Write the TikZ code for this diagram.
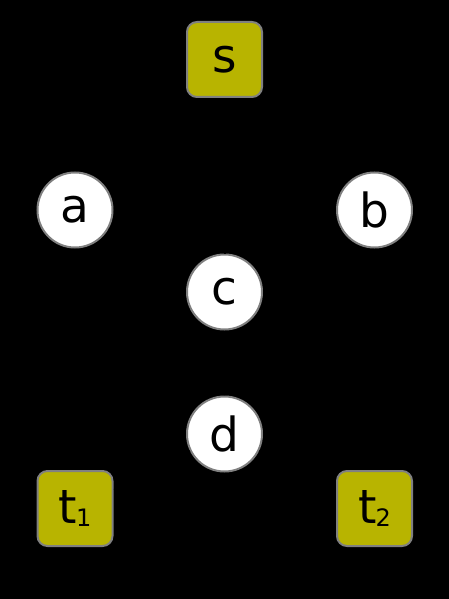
\documentclass[tikz,border=0pt]{standalone}
\usepackage{fontspec}
\setmainfont{DejaVu Sans}
\usetikzlibrary{arrows.meta}
\definecolor{olivefill}{RGB}{184,180,0}
\definecolor{bordergray}{RGB}{128,128,128}
\newcommand{\lowr}[1]{\raisebox{-2.5pt}{#1}}
\begin{document}
\begin{tikzpicture}[x=1pt,y=-1pt,
  term/.style={draw=bordergray,line width=2pt,fill=olivefill,rounded corners=10pt,
    minimum width=75pt,minimum height=75pt,inner sep=0pt,font=\fontsize{47}{47}\selectfont},
  vert/.style={draw=bordergray,line width=2pt,fill=white,circle,
    minimum size=75pt,inner sep=0pt,font=\fontsize{47}{47}\selectfont},
  edge/.style={draw=black,line width=2pt,-{Stealth[length=10pt,width=8pt]}}]
\fill[black] (0,0) rectangle (449,599);
\useasboundingbox (0,0) rectangle (449,599);
\node[term] (s) at (224.5,59.5) {\lowr{s}};
\node[vert] (a) at (75,210) {\lowr{a}};
\node[vert] (b) at (374.5,210) {\lowr{b}};
\node[vert] (c) at (224.5,292) {\lowr{c}};
\node[vert] (d) at (224.5,434) {\lowr{d}};
\node[term] (t1) at (75,508.5) {\lowr{t\kern-1pt\raisebox{-3pt}{\fontsize{24}{24}\selectfont 1}}};
\node[term] (t2) at (374.5,508.5) {\lowr{t\kern-1pt\raisebox{-3pt}{\fontsize{24}{24}\selectfont 2}}};
\draw[edge] (s) -- (a);
\draw[edge] (s) -- (b);
\draw[edge] (c) -- (s);
\draw[edge] (a) -- (t1);
\draw[edge] (b) -- (t2);
\draw[edge] (a) -- (c);
\draw[edge] (b) -- (c);
\draw[edge] (c) -- (d);
\draw[edge] (d) -- (t1);
\draw[edge] (d) -- (t2);
\end{tikzpicture}
\end{document}
